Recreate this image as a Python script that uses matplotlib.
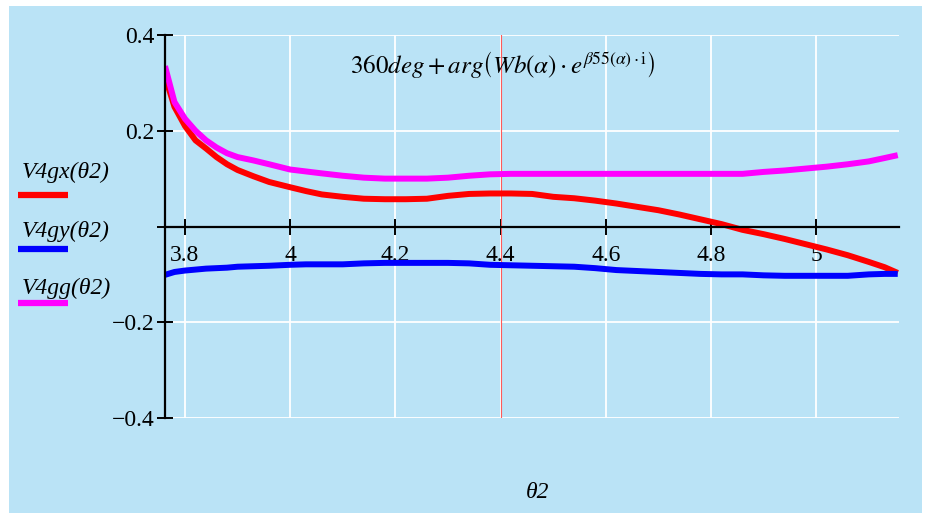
import matplotlib
matplotlib.use("Agg")
import matplotlib.pyplot as plt
from matplotlib.patches import Rectangle
from matplotlib.lines import Line2D

plt.rcParams['mathtext.fontset'] = 'stix'
plt.rcParams['font.family'] = ['Liberation Serif', 'DejaVu Serif']

# ---- data ----
theta2 = [3.762, 3.78, 3.80, 3.82, 3.84, 3.86, 3.88, 3.90, 3.93, 3.96,
          4.00, 4.03, 4.06, 4.10, 4.14, 4.18, 4.22, 4.26, 4.30, 4.34,
          4.38, 4.42, 4.46, 4.50, 4.54, 4.58, 4.62, 4.66, 4.70, 4.74,
          4.78, 4.82, 4.86, 4.90, 4.94, 4.98, 5.02, 5.06, 5.10, 5.13, 5.155]
V4gx = [0.314, 0.25, 0.21, 0.18, 0.163, 0.145, 0.13, 0.118, 0.105, 0.093,
        0.082, 0.074, 0.067, 0.062, 0.058, 0.057, 0.057, 0.058, 0.064, 0.068,
        0.069, 0.069, 0.068, 0.062, 0.059, 0.054, 0.048, 0.041, 0.034, 0.025,
        0.015, 0.005, -0.007, -0.016, -0.026, -0.037, -0.048, -0.060, -0.074, -0.085, -0.097]
V4gy = [-0.101, -0.095, -0.092, -0.090, -0.088, -0.087, -0.086, -0.084, -0.083, -0.082,
        -0.080, -0.079, -0.079, -0.079, -0.077, -0.076, -0.076, -0.076, -0.076, -0.077,
        -0.080, -0.081, -0.082, -0.083, -0.084, -0.087, -0.091, -0.093, -0.095, -0.097,
        -0.099, -0.100, -0.100, -0.102, -0.103, -0.103, -0.103, -0.103, -0.100, -0.099, -0.099]
V4gg = [0.335, 0.26, 0.225, 0.20, 0.18, 0.165, 0.153, 0.145, 0.138, 0.130,
        0.119, 0.115, 0.111, 0.106, 0.102, 0.100, 0.100, 0.100, 0.102, 0.106,
        0.109, 0.110, 0.110, 0.110, 0.110, 0.110, 0.110, 0.110, 0.110, 0.110,
        0.110, 0.110, 0.110, 0.114, 0.117, 0.121, 0.125, 0.130, 0.136, 0.143, 0.149]

series_names = ['V4gx(\u03b82)', 'V4gy(\u03b82)', 'V4gg(\u03b82)']
series_colors = ['#ff0000', '#0000ff', '#ff00ff']

xticks = [3.8, 4.0, 4.2, 4.4, 4.6, 4.8, 5.0]
xticklabels = ['3.8', '4', '4.2', '4.4', '4.6', '4.8', '5']
yticks = [0.4, 0.2, 0.0, -0.2, -0.4]
yticklabels = ['0.4', '0.2', '', '\u22120.2', '\u22120.4']
marker_x = 4.4
xlim = (3.762, 5.1574)
ylim = (-0.4, 0.4)

W, H = 933, 517
BG = '#bae3f6'

fig = plt.figure(figsize=(W / 100, H / 100), dpi=100, facecolor='white')
fig.patches.append(Rectangle((9 / W, 1 - 513 / H), (922 - 9) / W, (513 - 6) / H,
                             transform=fig.transFigure, facecolor=BG,
                             edgecolor='none', zorder=-10))

ax = fig.add_axes([165 / W, 1 - 418 / H, (899 - 165) / W, (418 - 35) / H])
ax.set_facecolor(BG)
ax.patch.set_alpha(0)
ax.set_xlim(*xlim)
ax.set_ylim(*ylim)

# grid
for xv in xticks:
    ax.axvline(xv, color='white', lw=1.3, zorder=1)
for yv in yticks:
    ax.axhline(yv, color='white', lw=1.3, zorder=1)

ax.axvline(marker_x, color='#ff5a5a', lw=0.8, zorder=2)

for ys, c in zip([V4gx, V4gy, V4gg], series_colors):
    ax.plot(theta2, ys, color=c, lw=4.3, solid_capstyle='butt', zorder=3)

for s in ['top', 'right']:
    ax.spines[s].set_visible(False)
ax.spines['left'].set_linewidth(1.6)
ax.spines['bottom'].set_position(('data', 0))
ax.spines['bottom'].set_linewidth(1.6)
ax.spines['left'].set_zorder(4)
ax.spines['bottom'].set_zorder(4)

ax.set_xticks(xticks)
ax.set_xticklabels(xticklabels)
ax.set_yticks(yticks)
ax.set_yticklabels(yticklabels)
ax.tick_params(axis='both', direction='inout', length=11, width=1.4,
               labelsize=17, color='black')
ax.tick_params(axis='x', pad=8)
ax.tick_params(axis='y', pad=2)
for lab in ax.get_yticklabels():
    lab.set_verticalalignment('center_baseline')

# legend on the left
leg_text_y = [172, 231, 288]
leg_line_y = [195, 249, 303]
for name, c, ty, ly in zip(series_names, series_colors, leg_text_y, leg_line_y):
    fig.text(22 / W, 1 - ty / H, name, fontsize=17, style='italic',
             ha='left', va='center')
    fig.add_artist(Line2D([18 / W, 68 / W], [1 - ly / H, 1 - ly / H],
                          transform=fig.transFigure, color=c, lw=4.5,
                          solid_capstyle='butt'))

fig.text(503 / W, 1 - 64 / H,
         r'$360deg+arg\left(Wb(\alpha)\cdot e^{\beta55(\alpha)\cdot\mathrm{i}}\right)$',
         fontsize=18, ha='center', va='center')

fig.text(538 / W, 1 - 493 / H, '\u03b82', fontsize=17, style='italic',
         ha='center', va='center')

fig.savefig('out.png', dpi=100, facecolor='white')
